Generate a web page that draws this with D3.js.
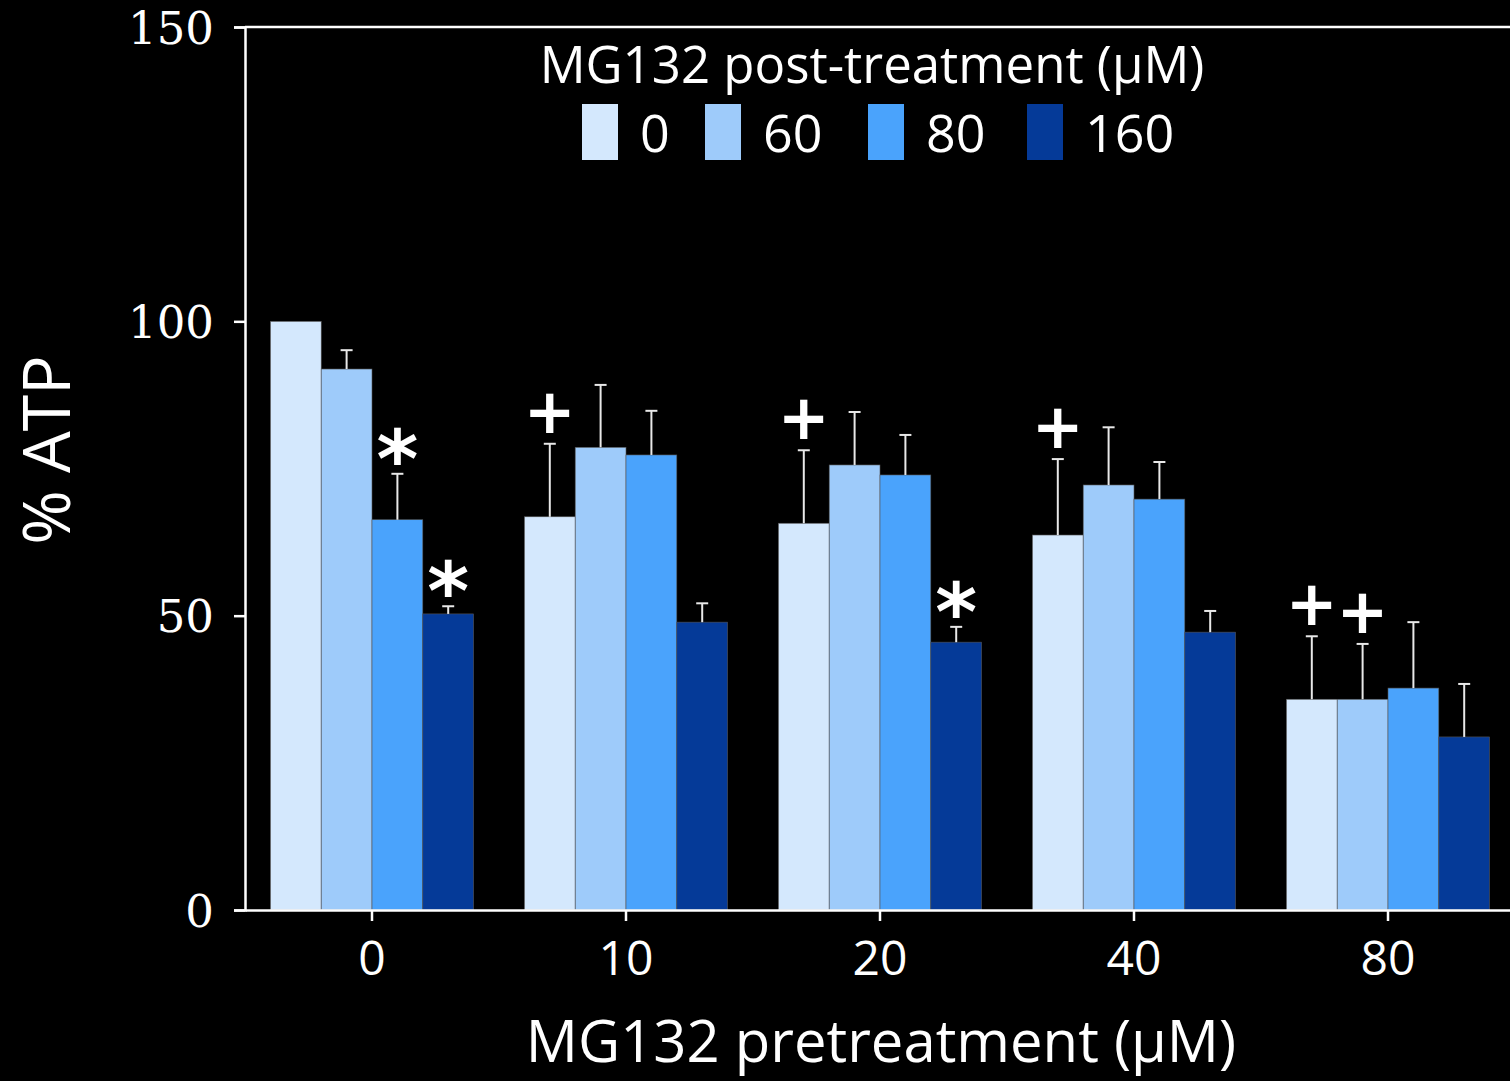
<!DOCTYPE html>
<html><head><meta charset="utf-8">
<script src="https://cdn.jsdelivr.net/npm/d3@7"></script>
<style>body{margin:0;background:#000}svg{display:block}</style>
</head><body>
<svg id="c" width="1510" height="1081"></svg>
<script>
const categories = ["0","10","20","40","80"];
const series = ["0","60","80","160"];
const colors = ["#d4e8fd","#9ecbfa","#4aa3fc","#053a98"];
const means = [
  [100, 91.9, 66.3, 50.3],
  [66.8, 78.6, 77.3, 48.9],
  [65.7, 75.6, 73.9, 45.5],
  [63.7, 72.2, 69.8, 47.2],
  [35.8, 35.8, 37.7, 29.4]
];
const errs = [
  [0, 3.2, 7.8, 1.3],
  [12.4, 10.6, 7.5, 3.2],
  [12.4, 9.0, 6.8, 2.6],
  [12.9, 9.8, 6.3, 3.6],
  [10.7, 9.4, 11.2, 9.0]
];
const marks = [
  ["", "", "*", "*"],
  ["+", "", "", ""],
  ["+", "", "", "*"],
  ["+", "", "", ""],
  ["+", "+", "", ""]
];
const yTicks = [0, 50, 100, 150];

const svg = d3.select("#c");
const x = d3.scaleBand().domain(categories).range([245, 1515]).paddingInner(0.2).paddingOuter(0.1);
const xs = d3.scaleBand().domain(series).range([0, x.bandwidth()]);
const y = d3.scaleLinear().domain([0, 150]).range([910, 27]);

// bars
const g = svg.append("g");
categories.forEach((c, i) => {
  series.forEach((s, j) => {
    g.append("rect").attr("x", x(c) + xs(s)).attr("y", y(means[i][j]))
      .attr("width", xs.bandwidth()).attr("height", y(0) - y(means[i][j]))
      .attr("fill", colors[j]).attr("stroke", "#555").attr("stroke-width", 0.6);
  });
});
// error bars
categories.forEach((c, i) => {
  series.forEach((s, j) => {
    const cx = x(c) + xs(s) + xs.bandwidth() / 2;
    if (errs[i][j] > 0) {
      const top = y(means[i][j] + errs[i][j]);
      g.append("line").attr("x1", cx).attr("x2", cx).attr("y1", y(means[i][j])).attr("y2", top)
        .attr("stroke", "#e8e8e8").attr("stroke-width", 2);
      g.append("line").attr("x1", cx - 6).attr("x2", cx + 6).attr("y1", top).attr("y2", top)
        .attr("stroke", "#e8e8e8").attr("stroke-width", 2);
    }
    const m = marks[i][j];
    if (m) {
      const top = y(means[i][j] + errs[i][j]);
      if (m === "*") {
        g.append("text").attr("x", cx).attr("y", top + 13).attr("text-anchor", "middle")
          .attr("fill", "#fff").attr("font-family", "DejaVu Sans").attr("font-weight", "bold")
          .attr("font-size", 80).text("*");
      } else {
        g.append("text").attr("x", cx).attr("y", top - 11).attr("text-anchor", "middle")
          .attr("fill", "#fff").attr("font-family", "DejaVu Sans").attr("font-weight", "bold")
          .attr("font-size", 62).text("+");
      }
    }
  });
});

// axes
const yAxis = svg.append("g").attr("transform", "translate(245,0)")
  .call(d3.axisLeft(y).tickValues(yTicks).tickSize(11).tickPadding(20));
yAxis.select(".domain").attr("stroke", "#fff").attr("stroke-width", 2.5);
yAxis.selectAll(".tick line").attr("stroke", "#fff").attr("stroke-width", 2.5);
yAxis.selectAll("text").attr("fill", "#fff").attr("font-family", "DejaVu Serif")
  .attr("font-size", 45).attr("dy", "0.36em");

svg.append("line").attr("x1", 245).attr("x2", 1510).attr("y1", y(150)).attr("y2", y(150))
  .attr("stroke", "#fff").attr("stroke-width", 2.5);

const xAxis = svg.append("g").attr("transform", "translate(0,910)")
  .call(d3.axisBottom(x).tickSize(11).tickPadding(20).tickSizeOuter(0));
xAxis.select(".domain").attr("stroke", "#fff").attr("stroke-width", 2.5);
xAxis.selectAll(".tick line").attr("stroke", "#fff").attr("stroke-width", 2.5);
xAxis.selectAll("text").attr("fill", "#fff").attr("font-family", "Open Sans")
  .attr("font-size", 48);

svg.append("text").attr("x", 881).attr("y", 1062).attr("text-anchor", "middle")
  .attr("fill", "#fff").attr("font-family", "Open Sans").attr("font-size", 58)
  .text("MG132 pretreatment (µM)");
svg.append("text").attr("transform", "translate(70,450) rotate(-90)").attr("text-anchor", "middle")
  .attr("fill", "#fff").attr("font-family", "Open Sans").attr("font-size", 66)
  .text("% ATP");

// legend
svg.append("text").attr("x", 872).attr("y", 83).attr("text-anchor", "middle")
  .attr("fill", "#fff").attr("font-family", "Open Sans").attr("font-size", 51)
  .text("MG132 post-treatment (µM)");
const legX = [582, 705, 868, 1027];
series.forEach((s, j) => {
  svg.append("rect").attr("x", legX[j]).attr("y", 104).attr("width", 36).attr("height", 56)
    .attr("fill", colors[j]);
  svg.append("text").attr("x", legX[j] + 58).attr("y", 152)
    .attr("fill", "#fff").attr("font-family", "Open Sans").attr("font-size", 52).text(s);
});
</script>
</body></html>
